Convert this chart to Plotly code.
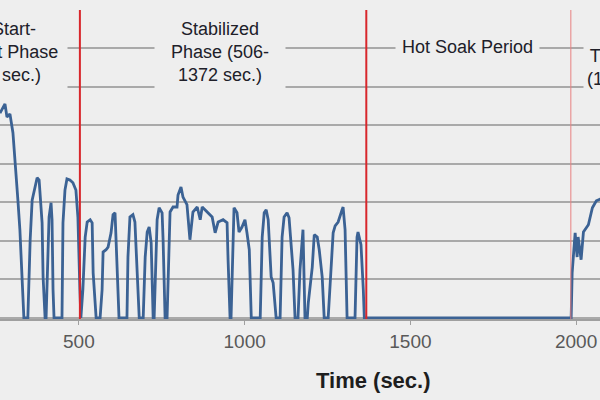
import plotly.graph_objects as go

# ---- data (time in s, speed in mph) ----
time_s = [
    262, 277, 283, 292, 301, 307, 316, 322, 331, 334, 346,
    353, 359, 368, 374, 380, 389, 392, 398, 401,
    404, 410, 416, 419, 422, 425, 449,
    452, 458, 464, 473, 482, 491, 497, 503, 506,
    512, 519, 525, 534, 540, 543, 552, 564,
    570, 573, 582, 588, 597, 603, 609, 615, 621, 645,
    648, 654, 663, 669, 675, 682, 694,
    700, 706, 712, 718, 724, 727,
    731, 736, 742, 751, 754, 760, 766,
    772, 775, 784, 796, 799, 808, 814, 826, 835, 844, 857, 866, 872,
    887, 902, 911, 920, 935, 947, 950, 956, 959,
    962, 968, 977, 983, 992, 1001, 1007, 1014, 1020, 1047,
    1053, 1059, 1065, 1071, 1080, 1086, 1095, 1107,
    1113, 1119, 1128, 1134, 1146, 1152, 1161,
    1167, 1176, 1182, 1189,
    1192, 1204, 1210, 1219, 1225, 1234, 1240, 1252,
    1258, 1267, 1273, 1282, 1294, 1297, 1303, 1309, 1333,
    1339, 1342, 1351, 1358, 1361, 1985,
    1988, 1997, 2003, 2006, 2015, 2022, 2037, 2049, 2061, 2073, 2085,
]
speed_mph = [
    53.2, 55.6, 52.2, 53.0, 48.1, 42.0, 30.6, 22.9, 8.1, 0, 0,
    20.3, 30.6, 34.5, 36.4, 35.8, 24.7, 10.6, 0, 0,
    7.3, 26.2, 29.9, 25.5, 7.3, 0, 0,
    24.7, 33.2, 36.1, 35.8, 35.1, 33.2, 26.2, 7.3, 0,
    7.3, 21.0, 24.9, 25.5, 24.7, 11.7, 0, 0,
    7.3, 17.1, 17.7, 18.4, 22.1, 26.8, 27.3, 15.8, 0, 0,
    15.8, 26.2, 26.8, 24.9, 12.5, 0, 0,
    15.8, 22.3, 23.6, 19.5, 0, 0,
    10.6, 25.5, 28.6, 27.3, 20.3, 0, 0,
    17.7, 27.5, 28.8, 28.8, 31.9, 34.0, 31.4, 29.4, 20.3, 27.5, 28.8, 25.5, 28.8,
    27.5, 26.2, 22.1, 24.9, 25.5, 24.7, 15.1, 0, 0,
    12.5, 28.6, 27.3, 22.3, 23.6, 25.5, 22.1, 17.7, 0, 0,
    21.0, 27.3, 28.1, 25.5, 10.6, 9.1, 0, 0,
    21.0, 26.2, 27.3, 26.0, 12.5, 0, 0,
    12.5, 22.9, 0, 0,
    3.9, 13.2, 21.6, 21.0, 17.7, 10.6, 0, 0,
    9.9, 22.1, 23.9, 24.9, 28.1, 28.8, 22.9, 0, 0,
    21.0, 22.3, 19.0, 7.3, 0, 0,
    11.7, 22.1, 15.8, 21.0, 15.1, 22.3, 24.2, 28.6, 30.4, 30.9, 31.2,
]

x_ticks = [500, 1000, 1500, 2000]
x_tick_labels = ["500", "1000", "1500", "2000"]
y_grid_step = 10
y_max = 80
x_view = [262, 2072]

phase_marks = [503, 1367, 1984]

phase_labels = [
    "Cold Start-<br>Transient Phase<br>(0-505 sec.)",
    "Stabilized<br>Phase (506-<br>1372 sec.)",
    "Hot Soak Period",
    "Hot Start-<br>Transient Phase<br>(1972-2477 sec.)",
]
label_time = [241, 926, 1671, 2239]
label_speed = [69.1, 69.1, 70.4, 68.0]
label_box_w = [146, 128, 141, 140]
label_box_h = [74, 74, 26, 74]

x_title = "Time (sec.)"
x_title_time = 1390

BG = "#eeeeee"
GRID = "#a9a9a9"
TEXT = "#202029"
FONT = "Arial, Liberation Sans, sans-serif"

fig = go.Figure()
fig.add_trace(go.Scatter(
    x=time_s, y=speed_mph, mode="lines",
    line=dict(color="#3b6294", width=2.8),
    hoverinfo="skip", showlegend=False,
))

span = x_view[1] - x_view[0]
for i, t in enumerate(phase_marks):
    last = i == len(phase_marks) - 1
    fig.add_shape(type="line", xref="x", yref="paper", x0=t, x1=t, y0=0, y1=1,
                  line=dict(color="#e88080" if last else "#d8262b",
                            width=1 if last else 2),
                  layer="above")

for txt, t, v, w, h in zip(phase_labels, label_time, label_speed, label_box_w, label_box_h):
    fig.add_annotation(
        text=txt, xref="paper", x=(t - x_view[0]) / span, yref="y", y=v,
        xanchor="center", yanchor="middle", showarrow=False,
        width=w, height=h, align="center", valign="middle",
        bgcolor=BG, borderpad=1,
        font=dict(family=FONT, size=18, color=TEXT),
    )

fig.add_annotation(
    text="<b>" + x_title + "</b>", xref="paper", x=(x_title_time - x_view[0]) / span,
    yref="paper", y=-0.2, yanchor="middle", xanchor="center", showarrow=False,
    font=dict(family=FONT, size=22, color="#1e1e1e"),
)

fig.update_layout(
    width=600, height=400,
    margin=dict(l=0, r=0, t=10, b=81, autoexpand=False),
    paper_bgcolor=BG, plot_bgcolor=BG,
    xaxis=dict(range=x_view, tickvals=x_ticks, ticktext=x_tick_labels,
               automargin=False,
               showgrid=False, zeroline=False, showline=True,
               linecolor="#9f9f9f", linewidth=2,
               ticks="outside", ticklen=4, tickcolor="#9f9f9f", tickwidth=1,
               tickfont=dict(family=FONT, size=19, color="#595959")),
    yaxis=dict(range=[-0.3, y_max], dtick=y_grid_step, tick0=0, automargin=False,
               showgrid=True, gridcolor=GRID, gridwidth=2,
               zeroline=False, showticklabels=False, showline=False),
)

fig.write_html(
    "out.html",
    config={"displayModeBar": False},
    post_script="document.body.style.margin='0';document.body.style.overflow='hidden';"
                "document.documentElement.style.background='#eeeeee';",
)
